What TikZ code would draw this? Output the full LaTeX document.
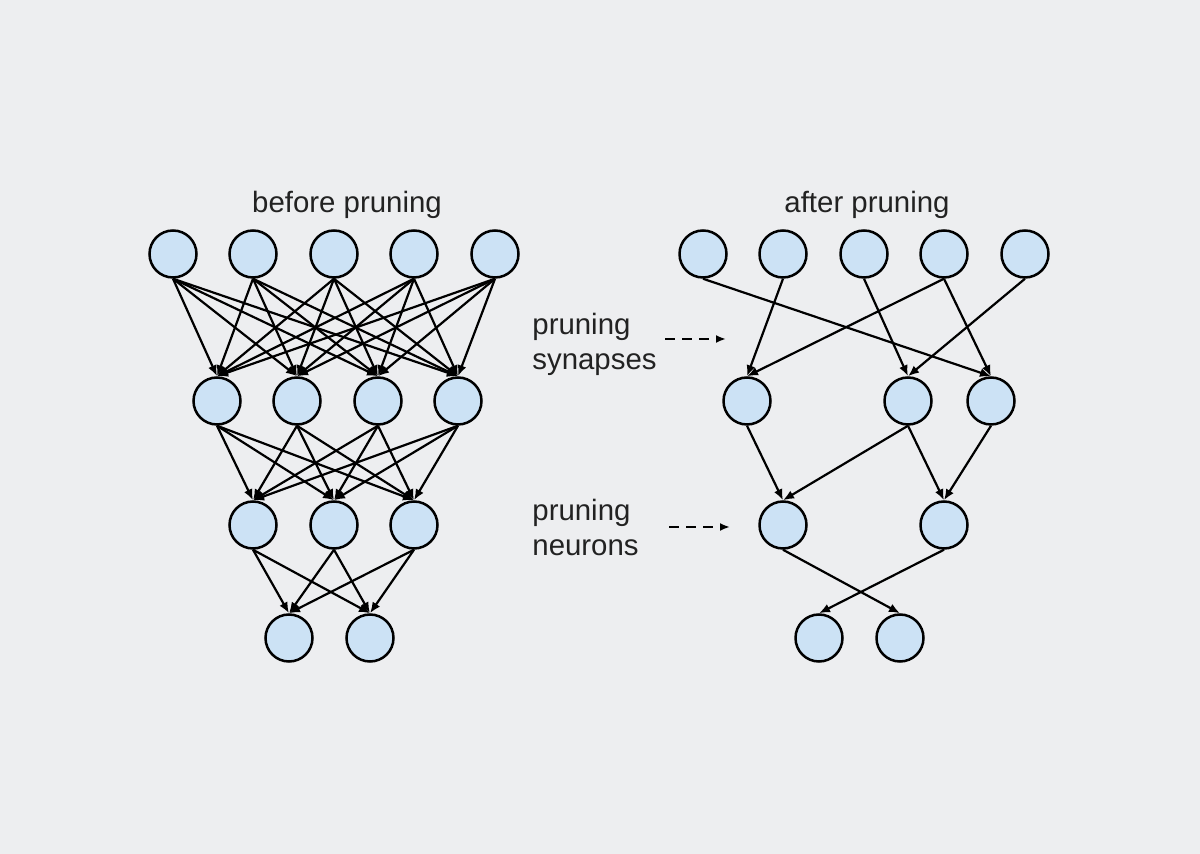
\documentclass[tikz,border=0pt]{standalone}
\usepackage{fontspec}
\setmainfont{Liberation Sans}
\usetikzlibrary{arrows.meta}
\definecolor{bgcol}{RGB}{237,238,240}
\definecolor{neuron}{RGB}{204,226,245}
\definecolor{txtcol}{RGB}{34,34,34}

\begin{document}
\begin{tikzpicture}[x=0.5pt, y=-0.5pt]
		\fill[bgcol] (0,0) rectangle (1200,854);
		\useasboundingbox (0,0) rectangle (1200,854);
		\begin{scope}[every node/.style={circle,draw,line width=1.25pt,fill=neuron, minimum size=23.5pt, inner sep=0pt}]
			% before pruning
			\node (a1) at (173,254) {};
			\node (a2) at (253,254) {};
			\node (a3) at (334,254) {};
			\node (a4) at (414,254) {};
			\node (a5) at (495,254) {};
			\node (b1) at (217,401) {};
			\node (b2) at (297,401) {};
			\node (b3) at (378,401) {};
			\node (b4) at (458,401) {};
			\node (c1) at (253,525) {};
			\node (c2) at (334,525) {};
			\node (c3) at (414,525) {};
			\node (d1) at (289,638) {};
			\node (d2) at (370,638) {};
			% after pruning
			\node (A1) at (703,254) {};
			\node (A2) at (783,254) {};
			\node (A3) at (864,254) {};
			\node (A4) at (944,254) {};
			\node (A5) at (1025,254) {};
			\node (B1) at (747,401) {};
			\node (B3) at (908,401) {};
			\node (B4) at (991,401) {};
			\node (C1) at (783,525) {};
			\node (C3) at (944,525) {};
			\node (D1) at (819,638) {};
			\node (D2) at (900,638) {};
		\end{scope}
		\begin{scope}[every path/.style={line width=1.1pt,-{Latex[length=5.5pt,width=4.5pt]}}]
			\path (a1.south) edge (b1.north) edge (b2.north) edge (b3.north) edge (b4.north);
			\path (a2.south) edge (b1.north) edge (b2.north) edge (b3.north) edge (b4.north);
			\path (a3.south) edge (b1.north) edge (b2.north) edge (b3.north) edge (b4.north);
			\path (a4.south) edge (b1.north) edge (b2.north) edge (b3.north) edge (b4.north);
			\path (a5.south) edge (b1.north) edge (b2.north) edge (b3.north) edge (b4.north);
			\path (b1.south) edge (c1.north) edge (c2.north) edge (c3.north);
			\path (b2.south) edge (c1.north) edge (c2.north) edge (c3.north);
			\path (b3.south) edge (c1.north) edge (c2.north) edge (c3.north);
			\path (b4.south) edge (c1.north) edge (c2.north) edge (c3.north);
			\path (c1.south) edge (d1.north) edge (d2.north);
			\path (c2.south) edge (d1.north) edge (d2.north);
			\path (c3.south) edge (d1.north) edge (d2.north);
			
			\path (A1.south) edge (B4.north);
			\path (A2.south) edge (B1.north);
			\path (A3.south) edge (B3.north);
			\path (A4.south) edge (B1.north) edge (B4.north);
			\path (A5.south) edge (B3.north);
			\path (B1.south) edge (C1.north);
			\path (B3.south) edge (C1.north) edge (C3.north);
			\path (B4.south) edge (C3.north);
			\path (C1.south) edge (D2.north);
			\path (C3.south) edge (D1.north);
		\end{scope}
		\begin{scope}[every node/.style={text=txtcol, font=\fontsize{14.7}{17.5}\selectfont, inner sep=0pt}]
			\node (before) at (347,205) {before pruning};
			\node (after) at (867,205) {after pruning};
			\node[anchor=west, align=left] (syn) at (532,344) {pruning\\synapses};
			\node[anchor=west, align=left] (neu) at (532,527) {pruning\\neurons};
		\end{scope}
		\coordinate (syn0) at (665,339);
		\coordinate (syn1) at (726,339);
		\coordinate (neu0) at (669,527);
		\coordinate (neu1) at (730,527);
		\draw[line width=1.1pt, dash pattern=on 5pt off 3.5pt, -{Latex[length=5pt,width=4pt]}] (syn0) -- (syn1);
		\draw[line width=1.1pt, dash pattern=on 5pt off 3.5pt, -{Latex[length=5pt,width=4pt]}] (neu0) -- (neu1);
	\end{tikzpicture}
\end{document}
